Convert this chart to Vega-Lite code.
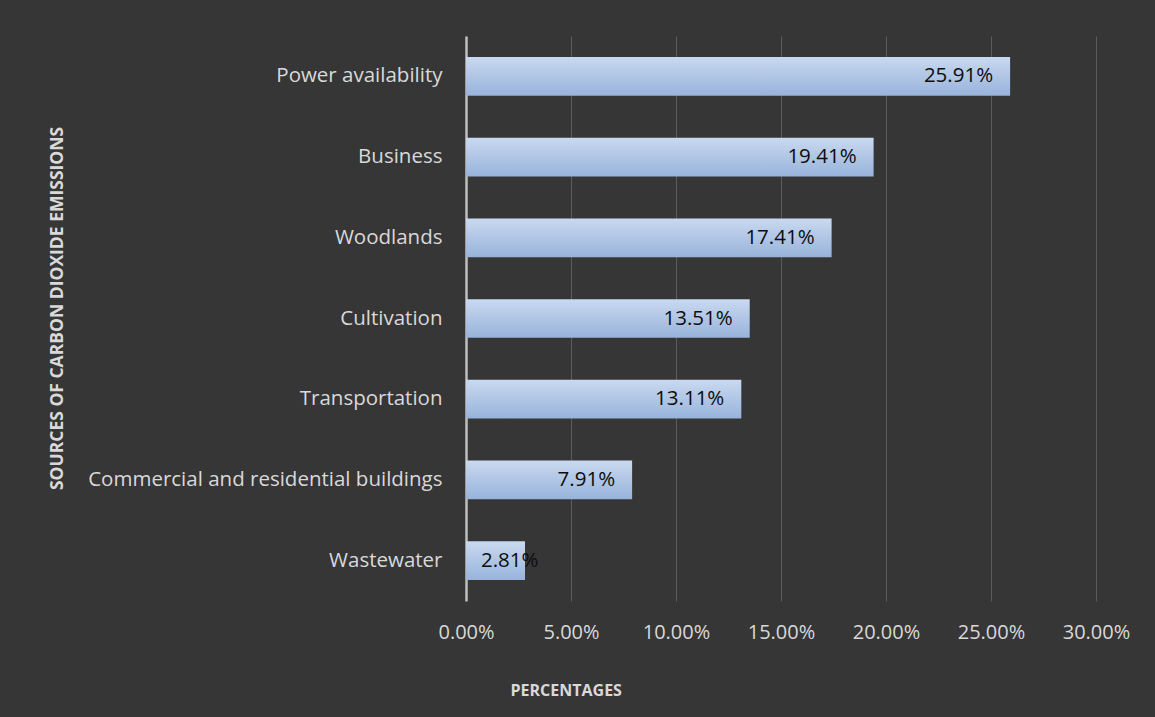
{
  "$schema": "https://vega.github.io/schema/vega-lite/v6.json",
  "width": 630,
  "height": 565,
  "autosize": {"type": "none"},
  "padding": {"left": 466, "top": 36, "right": 59, "bottom": 116},
  "background": "#363636",
  "config": {
    "view": {"stroke": null},
    "font": "Open Sans"
  },
  "data": {
    "values": [
      {"source": "Power availability", "pct": 0.2591},
      {"source": "Business", "pct": 0.1941},
      {"source": "Woodlands", "pct": 0.1741},
      {"source": "Cultivation", "pct": 0.1351},
      {"source": "Transportation", "pct": 0.1311},
      {"source": "Commercial and residential buildings", "pct": 0.0791},
      {"source": "Wastewater", "pct": 0.0281}
    ]
  },
  "encoding": {
    "y": {
      "field": "source",
      "type": "nominal",
      "sort": null,
      "scale": {"paddingInner": 0.52, "paddingOuter": 0.26},
      "axis": {
        "title": "SOURCES OF CARBON DIOXIDE EMISSIONS",
        "titleFont": "Open Sans",
        "titleFontWeight": "bold",
        "titleFontSize": 17.5,
        "titleColor": "#d9d9d9",
        "titleAngle": 270,
        "titleX": -409,
        "titleY": 272,
        "titleAlign": "center",
        "titleBaseline": "middle",
        "labelFont": "Open Sans",
        "labelFontSize": 20.5,
        "labelLimit": 0,
        "labelColor": "#d9d9d9",
        "labelPadding": 24,
        "ticks": false,
        "domainColor": "#bfbfbf",
        "domainWidth": 2.5,
        "grid": false
      }
    }
  },
  "layer": [
    {
      "mark": {
        "type": "bar",
        "fill": {
          "gradient": "linear",
          "x1": 0, "y1": 0, "x2": 0, "y2": 1,
          "stops": [
            {"offset": 0, "color": "#c9d9f0"},
            {"offset": 1, "color": "#98b3db"}
          ]
        }
      },
      "encoding": {
        "x": {
          "field": "pct",
          "type": "quantitative",
          "scale": {"domain": [0, 0.3], "nice": false},
          "axis": {
            "values": [0, 0.05, 0.1, 0.15, 0.2, 0.25, 0.3],
            "format": ".2%",
            "title": "PERCENTAGES",
            "titleFont": "Open Sans",
            "titleFontWeight": "bold",
            "titleFontSize": 16,
            "titleColor": "#d9d9d9",
            "titleAnchor": "start",
            "titleAlign": "left",
            "titleX": 44,
            "titleY": 89,
            "titleBaseline": "middle",
            "labelFont": "Open Sans",
            "labelFontSize": 20,
            "labelFlush": false,
            "labelColor": "#d9d9d9",
            "labelPadding": 21,
            "ticks": false,
            "domain": false,
            "grid": true,
            "gridColor": "#5c5c5c",
            "gridWidth": 1
          }
        }
      }
    },
    {
      "transform": [{"filter": "datum.pct > 0.05"}],
      "mark": {"type": "text", "align": "right", "dx": -17, "font": "Open Sans", "fontSize": 20.5, "color": "#0d0d0d", "baseline": "middle"},
      "encoding": {
        "x": {"field": "pct", "type": "quantitative"},
        "text": {"field": "pct", "type": "quantitative", "format": ".2%"}
      }
    },
    {
      "transform": [{"filter": "datum.pct <= 0.05"}],
      "mark": {"type": "text", "align": "left", "dx": 15, "font": "Open Sans", "fontSize": 20.5, "color": "#0d0d0d", "baseline": "middle"},
      "encoding": {
        "x": {"datum": 0, "type": "quantitative"},
        "text": {"field": "pct", "type": "quantitative", "format": ".2%"}
      }
    }
  ]
}
